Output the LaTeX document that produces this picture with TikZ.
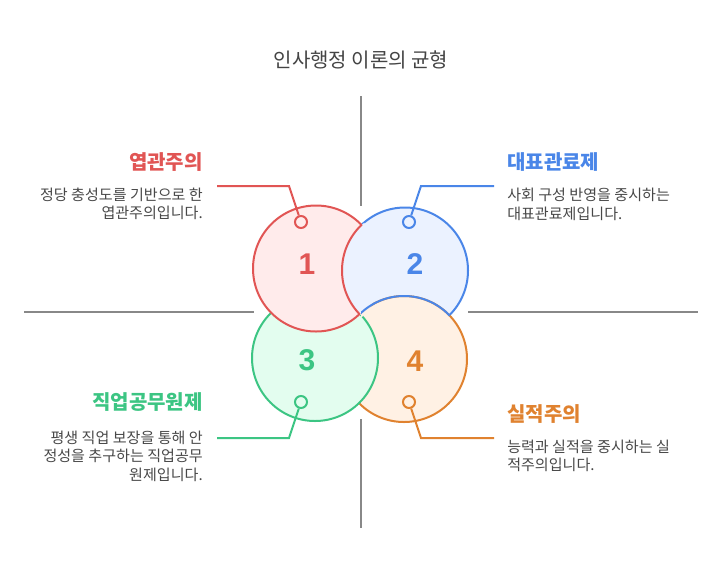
\documentclass[tikz,border=0pt]{standalone}
\usepackage{fontspec}
\setmainfont{Noto Sans CJK KR}
\newfontfamily\digitfont{Liberation Sans}[BoldFont={Liberation Sans Bold}]
\definecolor{cred}{HTML}{E15554}
\definecolor{cblue}{HTML}{4A86E8}
\definecolor{cgreen}{HTML}{3CC583}
\definecolor{corange}{HTML}{E0822F}
\definecolor{fred}{HTML}{FFEBEB}
\definecolor{fblue}{HTML}{EBF2FF}
\definecolor{fgreen}{HTML}{E3FDEF}
\definecolor{forange}{HTML}{FFF1E4}
\definecolor{axisgray}{HTML}{888888}
\definecolor{bodygray}{HTML}{484848}
\definecolor{titlegray}{HTML}{444444}
\tikzset{
  x=0.75pt,y=-0.75pt,
  axisline/.style={draw=axisgray,line width=1.15pt},
  ring/.style={line width=1.5pt},
  numlabel/.style={font=\digitfont\bfseries\fontsize{22.5}{24}\selectfont,inner sep=0pt},
  headl/.style={font=\bfseries\fontsize{15}{18}\selectfont,inner sep=0pt,anchor=west},
  headr/.style={font=\bfseries\fontsize{15}{18}\selectfont,inner sep=0pt,anchor=east},
  bodyl/.style={font=\fontsize{11.3}{14}\selectfont,text=bodygray,inner sep=0pt,anchor=north west,align=left},
  bodyr/.style={font=\fontsize{11.3}{14}\selectfont,text=bodygray,inner sep=0pt,anchor=north east,align=right},
  lead/.style={line width=1.5pt,line join=miter},
  dot/.style={circle,inner sep=0pt,minimum size=9pt,line width=1.5pt},
}
\def\Rr{47.25pt}
\begin{document}
\begin{tikzpicture}
\useasboundingbox[fill=white] (0,0) rectangle (721,576);
\coordinate (cr) at (316,268.5);
\coordinate (cb) at (405,270.5);
\coordinate (cg) at (315,358);
\coordinate (co) at (404,359);

% axes
\coordinate (at) at (361,96); \coordinate (ab) at (361,206);
\coordinate (bt) at (361,419); \coordinate (bb) at (361,528);
\coordinate (ll) at (24,312); \coordinate (lr) at (254,312);
\coordinate (rl) at (468,312); \coordinate (rr) at (698,312);
\draw[axisline] (at) -- (ab);
\draw[axisline] (bt) -- (bb);
\draw[axisline] (ll) -- (lr);
\draw[axisline] (rl) -- (rr);

% circles: the overlaps run in a cycle, so the last ones are redrawn through clips
\draw[ring,draw=cblue,fill=fblue] (cb) circle[radius=\Rr];
\draw[ring,draw=corange,fill=forange] (co) circle[radius=\Rr];
\draw[ring,draw=cgreen,fill=fgreen] (cg) circle[radius=\Rr];
\draw[ring,draw=cred,fill=fred] (cr) circle[radius=\Rr];
% blue over red, with a red edge; the fill stays above the orange circle
\begin{scope}
  \clip (cr) circle[radius=\Rr+2.5pt];
  \clip (cb) circle[radius=\Rr-0.2pt];
  \fill[fblue] (cb) circle[radius=\Rr];
\end{scope}
\begin{scope}
  \clip (cr) circle[radius=\Rr+0.3pt];
  \draw[ring,draw=cred] (cb) circle[radius=\Rr];
\end{scope}
% orange below blue's lens, with a blue edge
\coordinate (wa) at (361,290);
\coordinate (wb) at (455,322);
\begin{scope}
  \clip (wa) rectangle (wb);
  \begin{scope}
    \clip (cr) circle[radius=\Rr+2.8pt];
    \fill[forange] (co) circle[radius=\Rr];
  \end{scope}
  \clip (cb) circle[radius=\Rr+0.6pt];
  \draw[ring,draw=cblue] (co) circle[radius=\Rr];
\end{scope}

% numbers
\node[numlabel,text=cred] (n1) at (307,264.5) {1};
\node[numlabel,text=cblue] (n2) at (415,264.5) {2};
\node[numlabel,text=cgreen] (n3) at (307,360.5) {3};
\node[numlabel,text=corange] (n4) at (415,361) {4};

% leaders
\node[dot,draw=cred,fill=fred] (d1) at (301,222) {};
\node[dot,draw=cblue,fill=fblue] (d2) at (409,222) {};
\node[dot,draw=cgreen,fill=fgreen] (d3) at (301,402) {};
\node[dot,draw=corange,fill=forange] (d4) at (409,402) {};
\coordinate (e1) at (217,186); \coordinate (k1) at (289,186);
\coordinate (e2) at (494,186); \coordinate (k2) at (421,186);
\coordinate (e3) at (217,438); \coordinate (k3) at (289,438);
\coordinate (e4) at (494,438); \coordinate (k4) at (421,438);
\draw[lead,draw=cred] (e1) -- (k1) -- (d1);
\draw[lead,draw=cblue] (e2) -- (k2) -- (d2);
\draw[lead,draw=cgreen] (e3) -- (k3) -- (d3);
\draw[lead,draw=corange] (e4) -- (k4) -- (d4);

% texts
\node[font=\fontsize{15}{18}\selectfont,text=titlegray,inner sep=0pt] (title) at (361,60) {인사행정 이론의 균형};

\node[headr,text=cred] (h1) at (203,162) {엽관주의};
\node[bodyr] (b1) at (203,187.5) {정당 충성도를 기반으로 한\\엽관주의입니다.};

\node[headl,text=cblue] (h2) at (507,162) {대표관료제};
\node[bodyl] (b2) at (507,188) {사회 구성 반영을 중시하는\\대표관료제입니다.};

\node[headr,text=cgreen] (h3) at (203,402) {직업공무원제};
\node[bodyr] (b3) at (203,430.5) {평생 직업 보장을 통해 안\\정성을 추구하는 직업공무\\원제입니다.};

\node[headl,text=corange] (h4) at (507,414.5) {실적주의};
\node[bodyl] (b4) at (507,439.5) {능력과 실적을 중시하는 실\\적주의입니다.};
\end{tikzpicture}
\end{document}
